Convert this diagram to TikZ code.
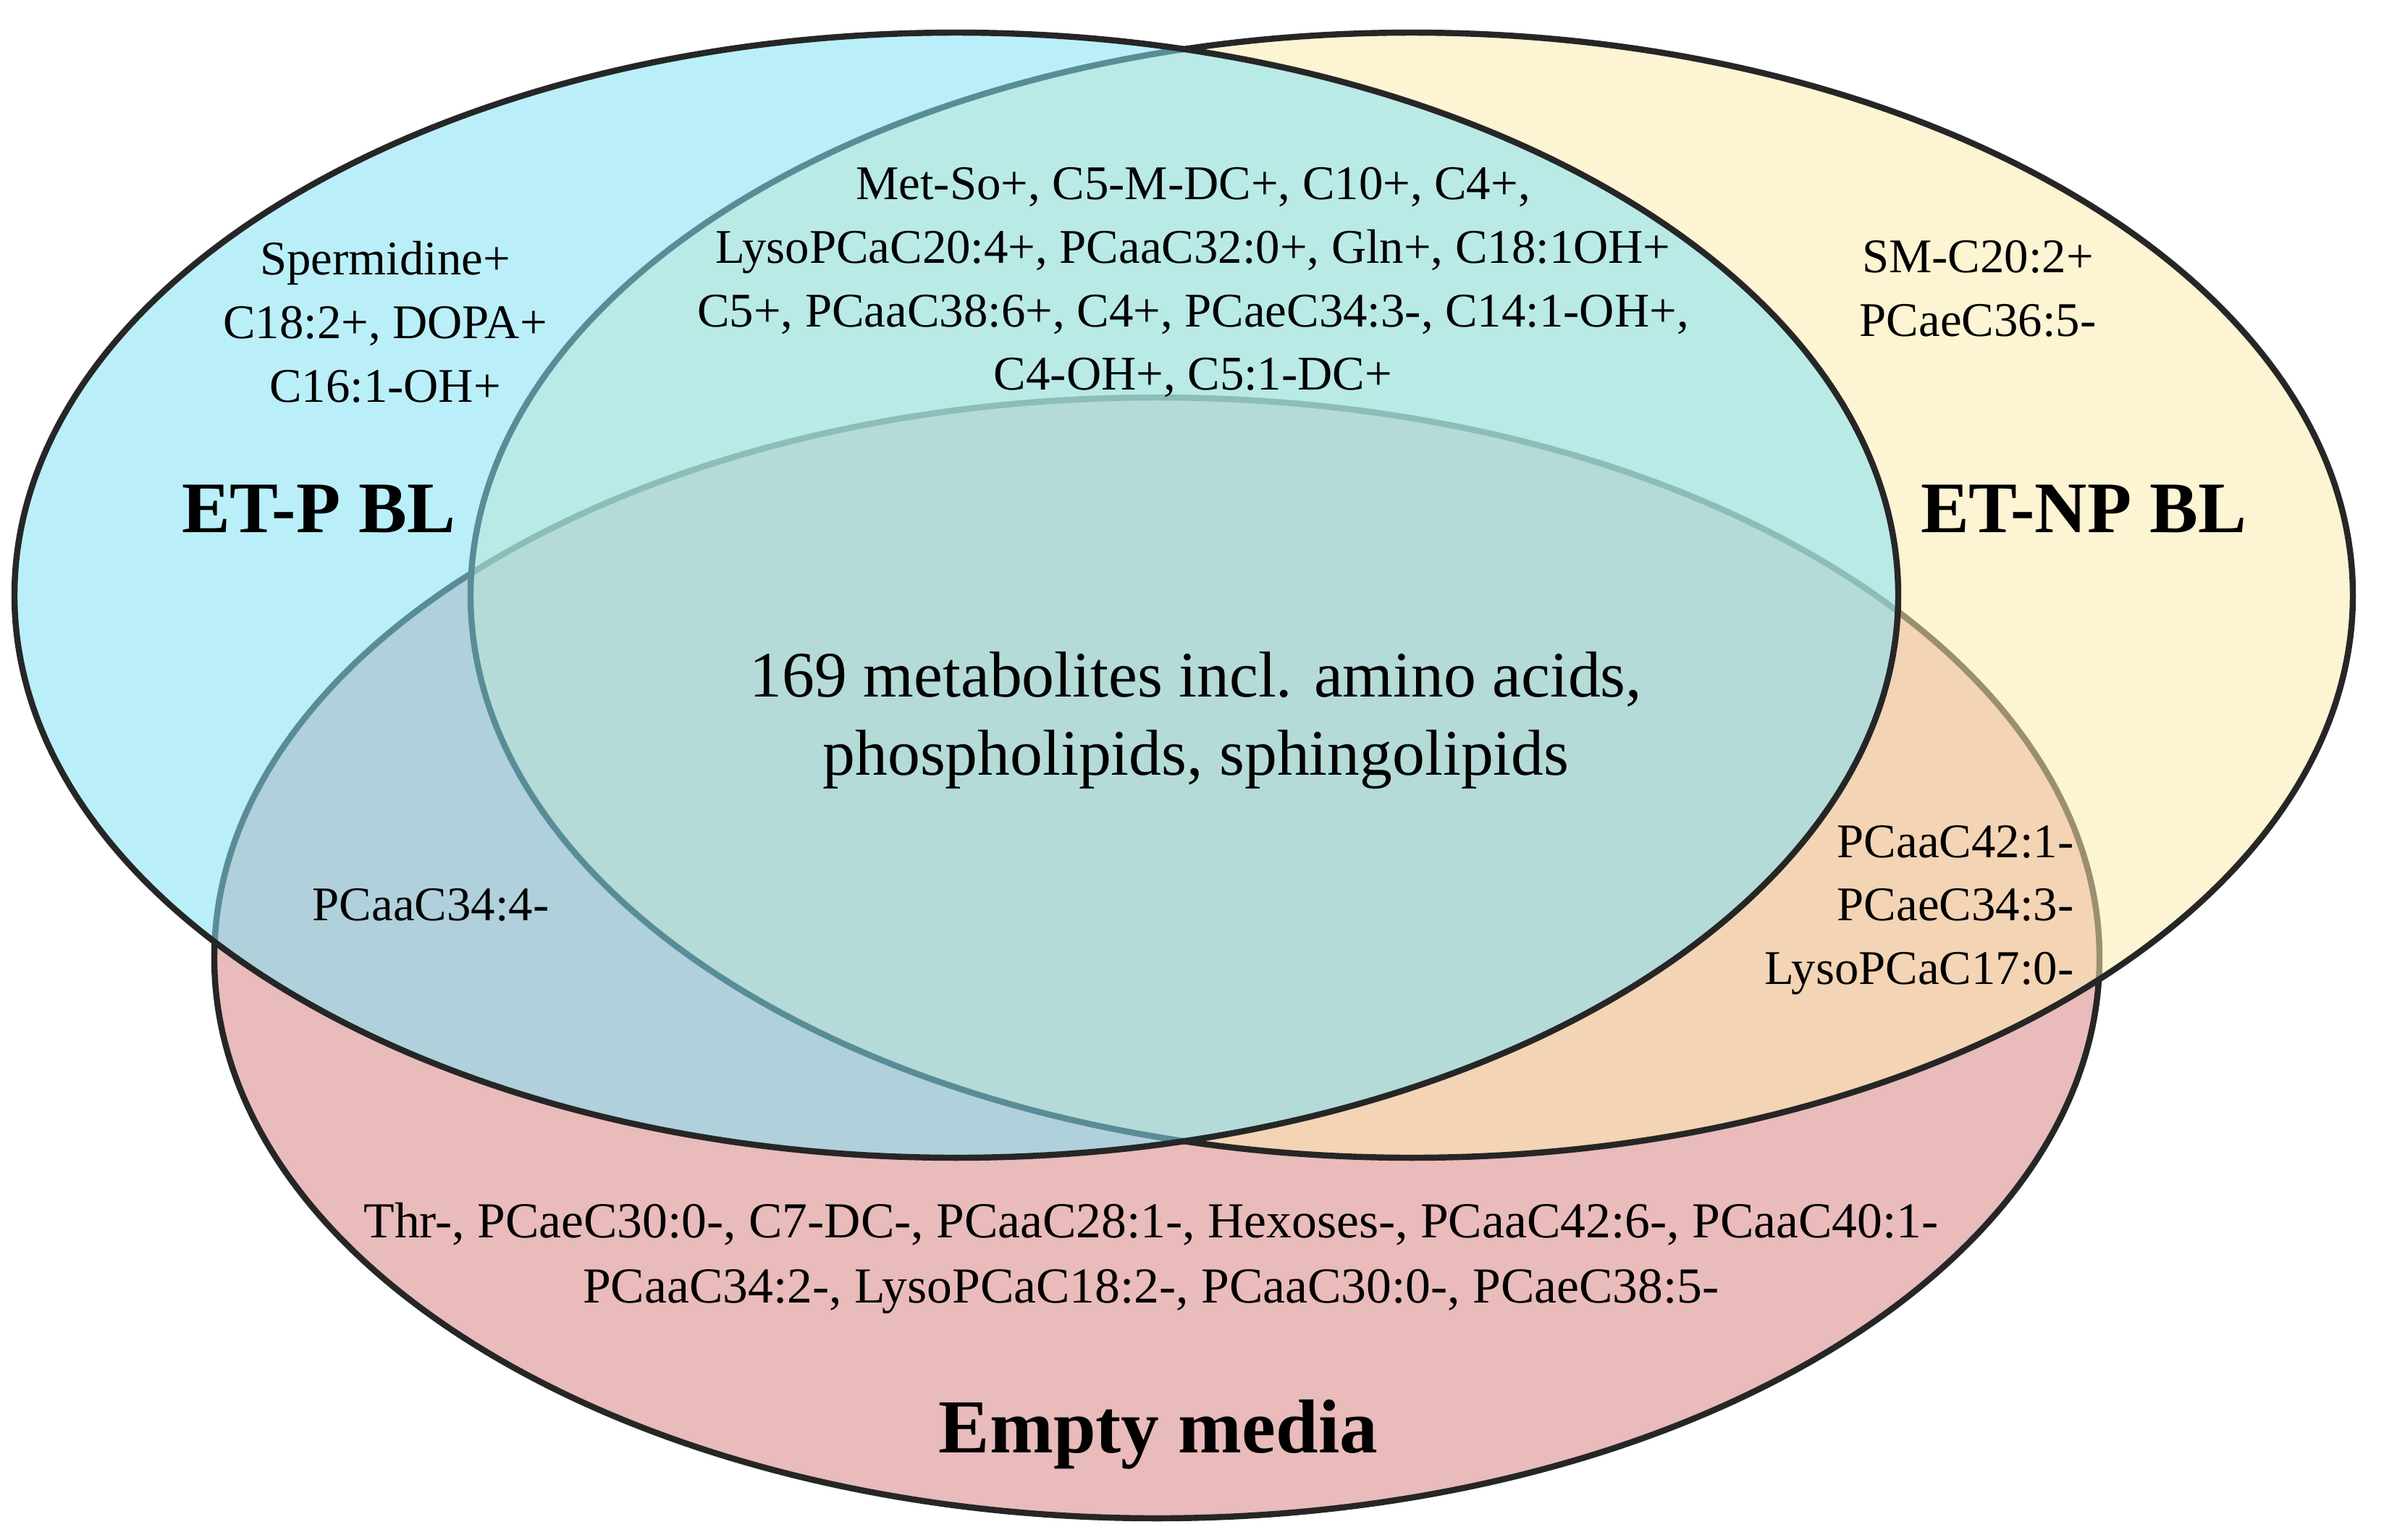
\documentclass[tikz,border=0pt]{standalone}
\usepackage{fontspec}
\setmainfont{Liberation Serif}
\definecolor{pinkfill}{RGB}{233,187,187}
\definecolor{yellowfill}{RGB}{253,235,175}
\definecolor{bluefill}{RGB}{130,226,246}
\definecolor{edgec}{RGB}{38,38,38}
\tikzset{
  setline/.style={draw=edgec, line width=2.4pt},
  small/.style={inner sep=0pt, align=center, font=\fontsize{19}{25}\selectfont},
  bottomtext/.style={inner sep=0pt, align=center, font=\fontsize{19.8}{25.5}\selectfont},
  big/.style={inner sep=0pt, align=center, font=\fontsize{25.5}{30.7}\selectfont},
  setlabel/.style={inner sep=0pt, font=\fontsize{28.5}{34}\selectfont\bfseries}
}
\begin{document}
\begin{tikzpicture}
\useasboundingbox (0,0) rectangle (32.93,-21.26);
\fill[white] (0,0) rectangle (32.93,-21.26);
% Empty media
\fill[pinkfill] (15.98,-13.23) ellipse [x radius=13.02, y radius=7.74];
\draw[setline] (15.98,-13.23) ellipse [x radius=13.02, y radius=7.74];
% ET-NP BL
\fill[yellowfill, fill opacity=0.54] (19.50,-8.22) ellipse [x radius=13.00, y radius=7.77];
\draw[setline] (19.50,-8.22) ellipse [x radius=13.00, y radius=7.77];
% ET-P BL
\fill[bluefill, fill opacity=0.55] (13.21,-8.22) ellipse [x radius=13.01, y radius=7.77];
\draw[setline] (13.21,-8.22) ellipse [x radius=13.01, y radius=7.77];

\node[small] (ponly) at (5.32,-4.45) {Spermidine+\\C18:2+, DOPA+\\C16:1-OH+};
\node[small] (pnp) at (16.48,-3.90) {Met-So+, C5-M-DC+, C10+, C4+,\\LysoPCaC20:4+, PCaaC32:0+, Gln+, C18:1OH+\\C5+, PCaaC38:6+, C4+, PCaeC34:3-, C14:1-OH+,\\C4-OH+, C5:1-DC+};
\node[small] (nponly) at (27.32,-3.99) {SM-C20:2+\\PCaeC36:5-};
\node[setlabel] (lp) at (4.40,-7.03) {ET-P BL};
\node[setlabel] (lnp) at (28.78,-7.03) {ET-NP BL};
\node[big] (all) at (16.52,-9.95) {169 metabolites incl. amino acids,\\phospholipids, sphingolipids};
\node[small] (pem) at (5.95,-12.50) {PCaaC34:4-};
\node[small, align=right, anchor=east] (npem) at (28.65,-12.57) {PCaaC42:1-\\PCaeC34:3-\\LysoPCaC17:0-};
\node[bottomtext] (emonly) at (15.90,-17.38) {Thr-, PCaeC30:0-, C7-DC-, PCaaC28:1-, Hexoses-, PCaaC42:6-, PCaaC40:1-\\PCaaC34:2-, LysoPCaC18:2-, PCaaC30:0-, PCaeC38:5-};
\node[setlabel, anchor=base, font=\fontsize{30}{36}\selectfont\bfseries] (lem) at (16.00,-20.06) {Empty media};
\end{tikzpicture}
\end{document}
